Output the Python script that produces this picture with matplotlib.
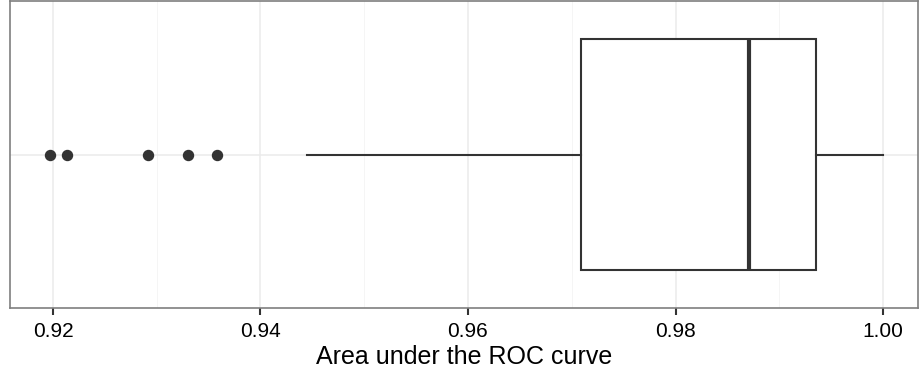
import matplotlib
matplotlib.use("Agg")
import matplotlib.pyplot as plt
from matplotlib.ticker import MultipleLocator

plt.rcParams['font.family'] = ['Liberation Sans', 'DejaVu Sans']

# Data
whisker_low = 0.9445
q1 = 0.9709
median = 0.9871
q3 = 0.9935
whisker_high = 1.0000
outliers = [0.9197, 0.9214, 0.9292, 0.9330, 0.9358]
tick_values = [0.92, 0.94, 0.96, 0.98, 1.00]
tick_labels = ["0.92", "0.94", "0.96", "0.98", "1.00"]
x_label = "Area under the ROC curve"

fig = plt.figure(figsize=(9.19, 3.75), dpi=100)
ax = fig.add_axes([10/919, 1 - 308/375, 908/919, 307/375])

stats = [dict(whislo=whisker_low, q1=q1, med=median, q3=q3, whishi=whisker_high,
              fliers=outliers)]
col = '#333333'
ax.bxp(stats, positions=[1], widths=0.9, vert=False, showcaps=False,
       patch_artist=True,
       boxprops=dict(facecolor='white', edgecolor=col, linewidth=1.5),
       whiskerprops=dict(color=col, linewidth=1.5),
       medianprops=dict(color=col, linewidth=3),
       flierprops=dict(marker='o', markerfacecolor=col, markeredgecolor=col,
                       markersize=7.2, linestyle='none'),
       zorder=3)

ax.set_xlim(0.91586, 1.00337)
ax.set_ylim(0.4, 1.6)
ax.set_xticks(tick_values)
ax.set_xticklabels(tick_labels)
ax.xaxis.set_minor_locator(MultipleLocator(0.01))
ax.set_yticks([1])
ax.set_yticklabels([])
ax.tick_params(axis='y', length=0)
ax.tick_params(axis='x', which='major', length=5, width=1.5, color='#333333',
               labelsize=15, labelcolor='black', pad=5)
ax.tick_params(axis='x', which='minor', length=0)

ax.grid(True, which='major', color='#ebebeb', linewidth=1.1, zorder=0)
ax.grid(True, which='minor', axis='x', color='#f4f4f4', linewidth=0.6, zorder=0)
ax.set_axisbelow(True)

for s in ax.spines.values():
    s.set_color('#7f7f7f')
    s.set_linewidth(1.2)

ax.set_xlabel(x_label, fontsize=18, color='black', labelpad=3)

fig.savefig("out.png", dpi=100)
